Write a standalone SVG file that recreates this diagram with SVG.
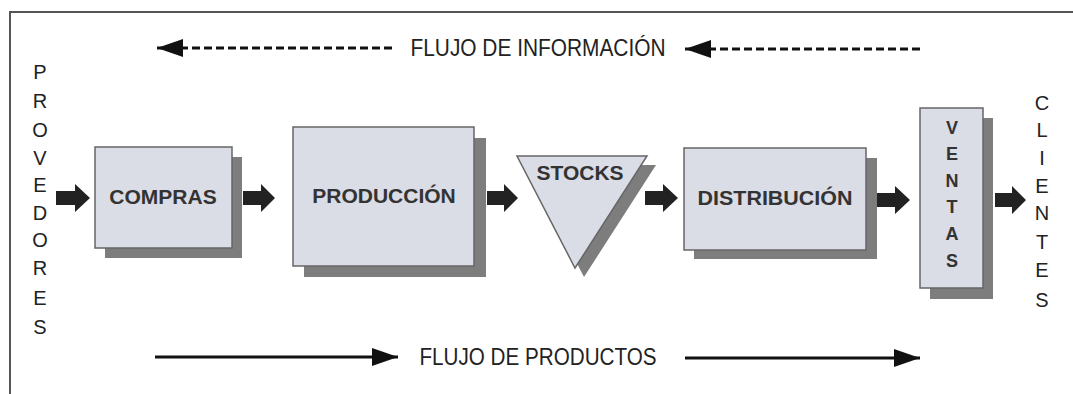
<svg xmlns="http://www.w3.org/2000/svg" width="1073" height="394" viewBox="0 0 1073 394">
<defs>
<style>
.frame{fill:none;stroke:#555;stroke-width:2}
.box{fill:#dadce6;stroke:#666;stroke-width:1.5}
.shadow{fill:#7d7d7d}
.lbl{font-family:"Liberation Sans",Arial,sans-serif;font-weight:bold;font-size:21px;fill:#333;text-anchor:middle}
.vert{font-family:"Liberation Sans",Arial,sans-serif;font-size:20px;fill:#222;text-anchor:middle}
.vsm{font-family:"Liberation Sans",Arial,sans-serif;font-weight:bold;font-size:18px;fill:#333;text-anchor:middle}
.flow{font-family:"Liberation Sans",Arial,sans-serif;font-size:23px;fill:#222;text-anchor:middle}
.blk{fill:#222}
.dash{stroke:#111;stroke-width:3;stroke-dasharray:8 4;fill:none}
.solid{stroke:#111;stroke-width:3;fill:none}
</style>
<marker id="ah" markerWidth="28" markerHeight="18" refX="26" refY="9" orient="auto" markerUnits="userSpaceOnUse">
<path d="M0,0 L26,9 L0,18 Z" fill="#111"/>
</marker>
</defs>
<rect width="1073" height="394" fill="#fff"/>
<path class="frame" d="M10,394 V12 H1073"/>

<g id="flujo-informacion">
<text class="flow" x="538" y="56" textLength="255" lengthAdjust="spacingAndGlyphs">FLUJO DE INFORMACIÓN</text>
</g>
<g id="flujo-productos">
<text class="flow" x="538" y="365" textLength="237" lengthAdjust="spacingAndGlyphs">FLUJO DE PRODUCTOS</text>
</g>

<g id="proveedores">
<text class="vert" x="40" y="79">P</text>
<text class="vert" x="40" y="108">R</text>
<text class="vert" x="40" y="137">O</text>
<text class="vert" x="40" y="165">V</text>
<text class="vert" x="40" y="192">E</text>
<text class="vert" x="40" y="220">D</text>
<text class="vert" x="40" y="247">O</text>
<text class="vert" x="40" y="275">R</text>
<text class="vert" x="40" y="305">E</text>
<text class="vert" x="40" y="334">S</text>
</g>

<g id="clientes">
<text class="vert" x="1042" y="110">C</text>
<text class="vert" x="1042" y="137">L</text>
<text class="vert" x="1042" y="165">I</text>
<text class="vert" x="1042" y="193">E</text>
<text class="vert" x="1042" y="220">N</text>
<text class="vert" x="1042" y="249">T</text>
<text class="vert" x="1042" y="277">E</text>
<text class="vert" x="1042" y="307">S</text>
</g>

<g id="compras">
<rect class="shadow" x="105" y="157" width="137" height="101"/>
<rect class="box" x="95" y="147" width="137" height="101"/>
<text class="lbl" x="163" y="204">COMPRAS</text>
</g>

<g id="produccion">
<rect class="shadow" x="304" y="138" width="182" height="139"/>
<rect class="box" x="293" y="127" width="181" height="139"/>
<text class="lbl" x="384" y="203">PRODUCCIÓN</text>
</g>

<g id="stocks">
<polygon class="shadow" points="526,165 656,165 584,277"/>
<polygon class="box" points="517,156 647,156 575,268"/>
<text class="lbl" x="580" y="180">STOCKS</text>
</g>

<g id="distribucion">
<rect class="shadow" x="694" y="158" width="183" height="101"/>
<rect class="box" x="684" y="148" width="182" height="102"/>
<text class="lbl" x="775" y="205" textLength="155" lengthAdjust="spacingAndGlyphs">DISTRIBUCIÓN</text>
</g>

<g id="ventas">
<rect class="shadow" x="930" y="118" width="63" height="181"/>
<rect class="box" x="920" y="108" width="63" height="180"/>
<text class="vsm" x="952" y="134">V</text>
<text class="vsm" x="952" y="160">E</text>
<text class="vsm" x="952" y="187">N</text>
<text class="vsm" x="952" y="213">T</text>
<text class="vsm" x="952" y="240">A</text>
<text class="vsm" x="952" y="267">S</text>
</g>

<g id="connectors">
<path class="blk" d="M56,191 H75 V184 L90,198 L75,212 V205 H56 Z"/>
<path class="blk" d="M243,191 H261 V184 L275,198 L261,212 V205 H243 Z"/>
<path class="blk" d="M487,191 H504 V184 L518,198 L504,212 V205 H487 Z"/>
<path class="blk" d="M645,191 H663 V184 L678,198 L663,212 V205 H645 Z"/>
<path class="blk" d="M877,193 H895 V186 L910,200 L895,214 V207 H877 Z"/>
<path class="blk" d="M995,193 H1012 V186 L1026,200 L1012,214 V207 H995 Z"/>
<line class="dash" x1="392" y1="48" x2="157" y2="48" marker-end="url(#ah)"/>
<line class="dash" x1="920" y1="49" x2="685" y2="49" marker-end="url(#ah)"/>
<line class="solid" x1="155" y1="357" x2="398" y2="357" marker-end="url(#ah)"/>
<line class="solid" x1="685" y1="358" x2="920" y2="358" marker-end="url(#ah)"/>
</g>
</svg>
